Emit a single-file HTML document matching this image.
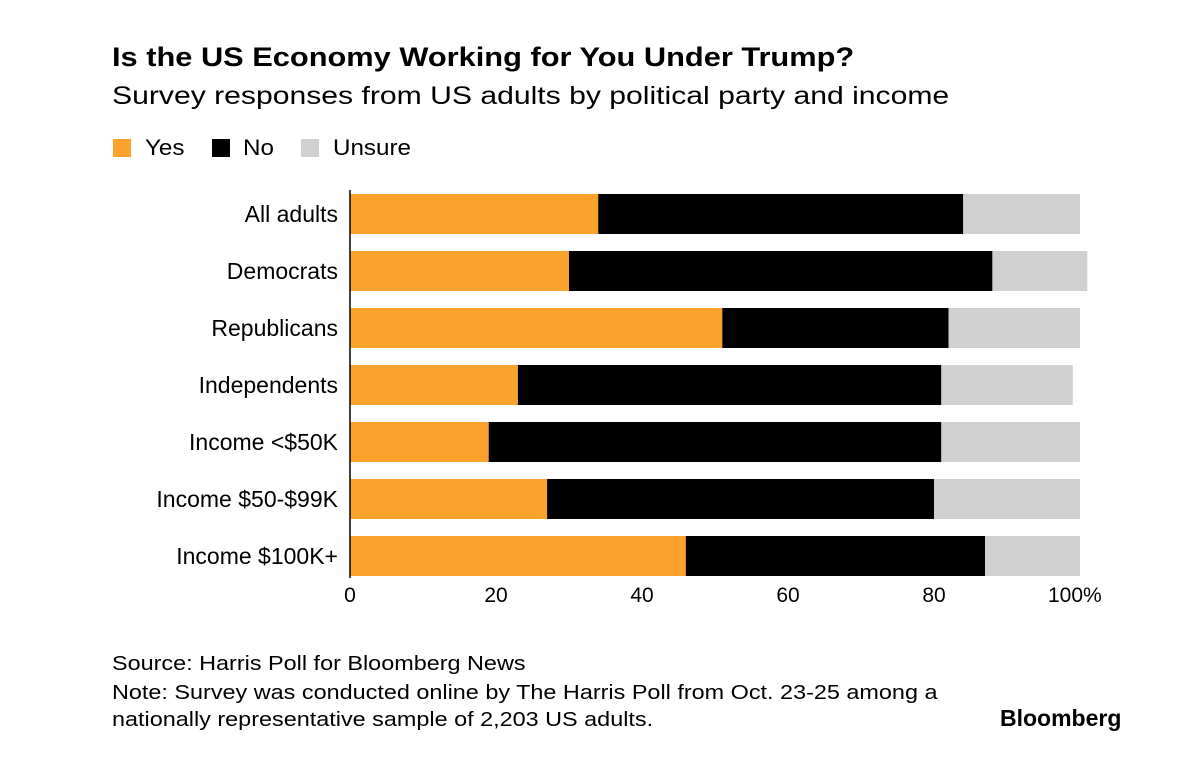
<!DOCTYPE html>
<html><head><meta charset="utf-8"><style>
body{margin:0;background:#fff;font-family:"Liberation Sans",Arial,sans-serif;}
#wrap{position:relative;width:1194px;height:780px;overflow:hidden;}
.t{position:absolute;white-space:nowrap;color:#000;transform-origin:0 0;}
</style></head><body>
<div id="wrap">
<div class="t" style="left:112px;top:42px;font-size:27px;font-weight:bold;transform:scaleX(1.14);">Is the US Economy Working for You Under Trump?</div>
<div class="t" style="left:112px;top:82px;font-size:25px;transform:scaleX(1.205);">Survey responses from US adults by political party and income</div>
<div>
<div style="position:absolute;left:113px;top:139px;width:18px;height:18px;background:#fba22d"></div>
<div class="t" style="left:145px;top:135px;font-size:22px;transform:scaleX(1.1);">Yes</div>
<div style="position:absolute;left:212px;top:139px;width:18px;height:18px;background:#000"></div>
<div class="t" style="left:243px;top:135px;font-size:22px;transform:scaleX(1.1);">No</div>
<div style="position:absolute;left:301px;top:139px;width:18px;height:18px;background:#d0d0d0"></div>
<div class="t" style="left:333px;top:135px;font-size:22px;transform:scaleX(1.1);">Unsure</div>
</div>
<svg id="chart" width="1194" height="780" style="position:absolute;left:0;top:0"></svg>
<div class="t" style="left:112px;top:653px;font-size:20px;transform:scaleX(1.17);">Source: Harris Poll for Bloomberg News</div>
<div class="t" style="left:112px;top:680px;font-size:20px;line-height:27px;transform:scaleX(1.17);">Note: Survey was conducted online by The Harris Poll from Oct. 23-25 among a<br>nationally representative sample of 2,203 US adults.</div>
<div class="t" style="left:1000px;top:705px;font-size:23px;font-weight:bold;">Bloomberg</div>
</div>
<script>
const categories=["All adults","Democrats","Republicans","Independents","Income <$50K","Income $50-$99K","Income $100K+"];
const yesValues=[34,30,51,23,19,27,46];
const noValues=[50,58,31,58,62,53,41];
const unsureValues=[16,13,18,18,19,20,13];
const tickValues=[0,20,40,60,80,100];
const tickLabels=["0","20","40","60","80","100%"];
const NS="http://www.w3.org/2000/svg";
const svg=document.getElementById('chart');
const x0=350,x1=1080,yTop=214,step=57,bh=40;
const xs=v=>x0+(x1-x0)*v/100;
const yc=i=>yTop+i*step;
function mk(tag,a){const e=document.createElementNS(NS,tag);for(const k in a)e.setAttribute(k,a[k]);svg.appendChild(e);return e;}
const colors=["#fba22d","#000000","#d0d0d0"];
const segNames=["yes","no","unsure"];
categories.forEach((c,i)=>{
  const vals=[yesValues[i],noValues[i],unsureValues[i]];
  let acc=0;
  vals.forEach((v,j)=>{
    const r=mk('rect',{x:xs(acc),y:yc(i)-bh/2,width:xs(acc+v)-xs(acc),height:bh,fill:colors[j]});
    
    
    acc+=v;
  });
  const t=mk('text',{x:338,y:yc(i)+8,'text-anchor':'end','font-size':23,'font-family':'Liberation Sans, Arial, sans-serif'});
  t.textContent=c;
  
  
});
const ax=mk('line',{x1:x0,x2:x0,y1:190,y2:578,stroke:'#000','stroke-width':1.5});


tickValues.forEach((v,i)=>{
  const t=mk('text',{x:i==5?xs(v)-32:xs(v),y:602,'text-anchor':i==5?'start':'middle','font-size':21,'font-family':'Liberation Sans, Arial, sans-serif'});
  t.textContent=tickLabels[i];
  
  
});
</script>
</body></html>
